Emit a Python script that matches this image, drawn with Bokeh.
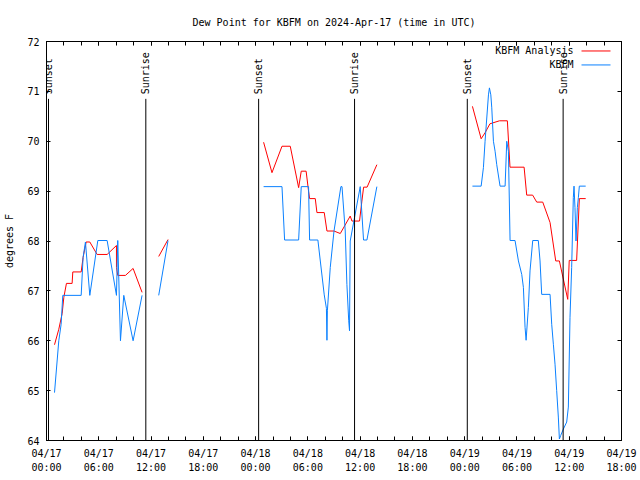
import numpy as np
from bokeh.plotting import figure
from bokeh.models import (FixedTicker, DatetimeTickFormatter, DatetimeAxis, LinearAxis,
                          Range1d, Label, ColumnDataSource, CustomJSTickFormatter)
from bokeh.core.properties import value
from bokeh.embed import file_html
from bokeh.resources import INLINE

TITLE = "Dew Point for KBFM on 2024-Apr-17 (time in UTC)"
BASE = np.datetime64("2024-04-17T00:00")
HOURS_SPAN = 66
NAN = float("nan")

# KBFM Analysis (hours after 04/17 00:00 UTC, degrees F)
analysis_hours = [0.92, 1.41, 1.80, 1.99, 2.29, 2.94, 3.02, 3.98, 4.20, 4.55, 4.97, 5.81, 6.96,
                  8.03, 8.03, 8.18, 9.06, 9.94, 10.97, NAN, 12.88, 13.95, NAN,
                  24.92, 25.88, 27.03, 27.98, 28.94, 29.24, 29.80, 30.08, 30.20, 30.85, 31.04,
                  31.88, 32.19, 33.00, 33.72, 34.86, 35.06, 35.93, 36.20, 36.40, 36.80, 37.92, NAN,
                  48.89, 49.89, 50.34, 50.90, 51.99, 52.90, 53.20, 54.82, 55.12, 55.80, 56.27,
                  56.96, 57.80, 58.45, 58.87, 59.83, 60.00, 60.85, 61.16, 61.89]
analysis_values = [65.92, 66.23, 66.55, 66.87, 67.15, 67.15, 67.38, 67.38, 67.67, 67.98, 67.98, 67.73, 67.73,
                   67.91, 67.47, 67.31, 67.31, 67.45, 66.97, NAN, 67.69, 68.03, NAN,
                   69.98, 69.37, 69.90, 69.90, 69.07, 69.40, 69.40, 69.00, 68.85, 68.85, 68.57,
                   68.57, 68.20, 68.20, 68.15, 68.50, 68.40, 68.40, 68.80, 69.08, 69.08, 69.53, NAN,
                   70.70, 70.05, 70.17, 70.35, 70.41, 70.41, 69.48, 69.48, 68.92, 68.92, 68.78,
                   68.78, 68.37, 67.60, 67.60, 66.83, 67.61, 67.61, 68.85, 68.85]

# KBFM observations
obs_hours = [0.92, 1.41, 1.68, 1.87, 3.98, 4.20, 4.47, 4.97, 5.89, 6.96, 8.03, 8.18, 8.49, 8.87,
             9.94, 10.97, NAN, 12.88, 13.95, NAN,
             24.92, 27.03, 27.33, 28.94, 29.24, 30.08, 30.20, 31.15, 31.88, 32.13, 32.19, 32.24,
             32.57, 33.00, 33.79, 33.92, 34.29, 34.48, 34.69, 34.78, 34.86, 36.01, 36.39, 36.78,
             37.92, NAN,
             48.89, 49.89, 50.15, 50.34, 50.73, 50.84, 51.00, 51.11, 51.30, 51.49, 51.68, 52.06,
             52.64, 52.83, 53.02, 53.21, 53.78, 54.17, 54.55, 54.74, 54.93, 55.05, 55.31, 55.50,
             55.81, 56.45, 56.65, 56.84, 57.80, 57.99, 58.18, 58.37, 58.56, 58.75, 58.87, 59.02,
             59.33, 59.71, 59.90, 60.09, 60.28, 60.47, 60.55, 60.66, 60.78, 60.93, 61.05, 61.16,
             61.89]
obs_values = [64.96, 66.00, 66.33, 66.91, 66.91, 67.67, 67.98, 66.91, 68.01, 68.01, 66.91, 68.01, 66.00, 66.91,
              66.00, 66.91, NAN, 66.91, 68.01, NAN,
              69.09, 69.09, 68.02, 68.02, 69.09, 69.09, 68.02, 68.02, 66.92, 66.65, 66.01, 66.60,
              67.47, 68.20, 69.09, 69.09, 68.20, 67.13, 66.40, 66.20, 68.00, 69.09, 68.02, 68.02,
              69.09, NAN,
              69.10, 69.10, 69.47, 70.00, 70.93, 71.07, 70.93, 70.67, 70.00, 69.80, 69.53, 69.10,
              69.10, 70.00, 69.80, 68.01, 68.01, 67.60, 67.33, 67.07, 66.27, 66.01, 66.67, 67.40,
              68.01, 68.01, 67.60, 66.93, 66.93, 66.33, 65.93, 65.53, 65.00, 64.47, 64.03, 64.10,
              64.23, 64.37, 64.67, 66.47, 67.47, 68.87, 69.10, 68.67, 68.00, 68.67, 68.87, 69.10,
              69.10]

# Sun events
event_hours = [0.23, 11.40, 24.35, 35.36, 48.30, 59.30]
event_names = ["Sunset", "Sunrise", "Sunset", "Sunrise", "Sunset", "Sunrise"]
event_line_top = 70.85

y_ticks = [64, 65, 66, 67, 68, 69, 70, 71, 72]
x_major_hours = [0, 6, 12, 18, 24, 30, 36, 42, 48, 54, 60, 66]
x_minor_hours = list(range(0, 67, 2))

series_names = ["KBFM Analysis", "KBFM"]
series_colors = ["#ff0000", "#0a80ff"]

FONT = "DejaVu Sans Mono"
FS = "10px"

base_ms = BASE.astype("datetime64[ms]").astype(np.int64).astype(float)
H = 3600000.0


def to_ms(hours):
    return base_ms + np.asarray(hours, dtype=float) * H


FRAME_W, FRAME_H = 575, 400
p = figure(width=640, height=480, x_axis_type="datetime",
           x_range=Range1d(to_ms(0), to_ms(HOURS_SPAN)), y_range=Range1d(64, 72),
           output_backend="svg", toolbar_location=None,
           min_border_left=46, min_border_right=19, min_border_top=40, min_border_bottom=40)
# pixel-like ranges for the key (legend) samples
p.extra_x_ranges = {"key_x": Range1d(0, FRAME_W)}
p.extra_y_ranges = {"key_y": Range1d(0, FRAME_H)}

p.title.text = TITLE
p.title.align = "center"
p.title.text_font = FONT
p.title.text_font_size = FS
p.title.text_font_style = "normal"
p.title.text_color = "black"
p.title.standoff = 28

p.xgrid.visible = False
p.ygrid.visible = False
p.outline_line_color = "black"
p.outline_line_alpha = 1.0
p.background_fill_color = "white"
p.border_fill_color = "white"

xticker = FixedTicker(ticks=list(to_ms(x_major_hours)), minor_ticks=list(to_ms(x_minor_hours)))
fmt = "%m/%d\n%H:%M"
xformatter = DatetimeTickFormatter(milliseconds=fmt, seconds=fmt, minsec=fmt, minutes=fmt,
                                   hourmin=fmt, hours=fmt, days=fmt, months=fmt, years=fmt,
                                   strip_leading_zeros=False)
blank = CustomJSTickFormatter(code="return ''")


def style_axis(ax):
    ax.axis_line_color = "black"
    ax.major_tick_line_color = "black"
    ax.minor_tick_line_color = "black"
    ax.major_tick_in = 4
    ax.major_tick_out = 0
    ax.minor_tick_in = 4
    ax.minor_tick_out = 0
    ax.major_label_text_font = FONT
    ax.major_label_text_font_size = FS
    ax.major_label_text_color = "black"


xa = p.xaxis[0]
xa.ticker = xticker
xa.formatter = xformatter
style_axis(xa)
xa.major_label_standoff = 7
xa.major_label_text_line_height = 1.3

ya = p.yaxis[0]
ya.ticker = FixedTicker(ticks=y_ticks)
style_axis(ya)
ya.major_label_standoff = 7
ya.minor_tick_in = 0
ya.axis_label = "degrees F"
ya.axis_label_text_font = FONT
ya.axis_label_text_font_size = FS
ya.axis_label_text_font_style = "normal"
ya.axis_label_text_color = "black"
ya.axis_label_standoff = 9

top = DatetimeAxis(ticker=xticker, formatter=blank)
style_axis(top)
top.major_label_standoff = 0
p.add_layout(top, "above")

right = LinearAxis(ticker=FixedTicker(ticks=y_ticks), formatter=blank)
style_axis(right)
right.minor_tick_in = 0
right.major_label_standoff = 0
p.add_layout(right, "right")

# data lines
p.line(to_ms(analysis_hours), analysis_values, line_color=series_colors[0], line_width=1)
p.line(to_ms(obs_hours), obs_values, line_color=series_colors[1], line_width=1)

# sunrise / sunset markers
ev = ColumnDataSource(dict(x=to_ms(event_hours), name=event_names,
                           y0=[64] * len(event_hours), y1=[event_line_top] * len(event_hours),
                           ty=[event_line_top + 0.09] * len(event_hours)))
p.segment(x0="x", y0="y0", x1="x", y1="y1", source=ev, line_color="black", line_width=1)
p.text(x="x", y="ty", text="name", source=ev, angle=np.pi / 2, text_align="left",
       text_baseline="middle", text_font=value(FONT), text_font_size=FS, text_color="black")

# key: text then line sample, as in the original
leg_text_right = 527
leg_line_x0 = 535
leg_line_x1 = 564
leg_rows = [390.5, 376.5]
for name, color, yy in zip(series_names, series_colors, leg_rows):
    p.add_layout(Label(x=leg_text_right, y=yy, x_units="screen", y_units="screen", text=name,
                       text_align="right", text_baseline="middle", text_font=FONT,
                       text_font_size=FS, text_color="black"))
    p.segment(x0=[leg_line_x0], y0=[yy], x1=[leg_line_x1], y1=[yy],
              x_range_name="key_x", y_range_name="key_y", line_color=color, line_width=1)

open("out.html", "w").write(file_html(p, INLINE))
